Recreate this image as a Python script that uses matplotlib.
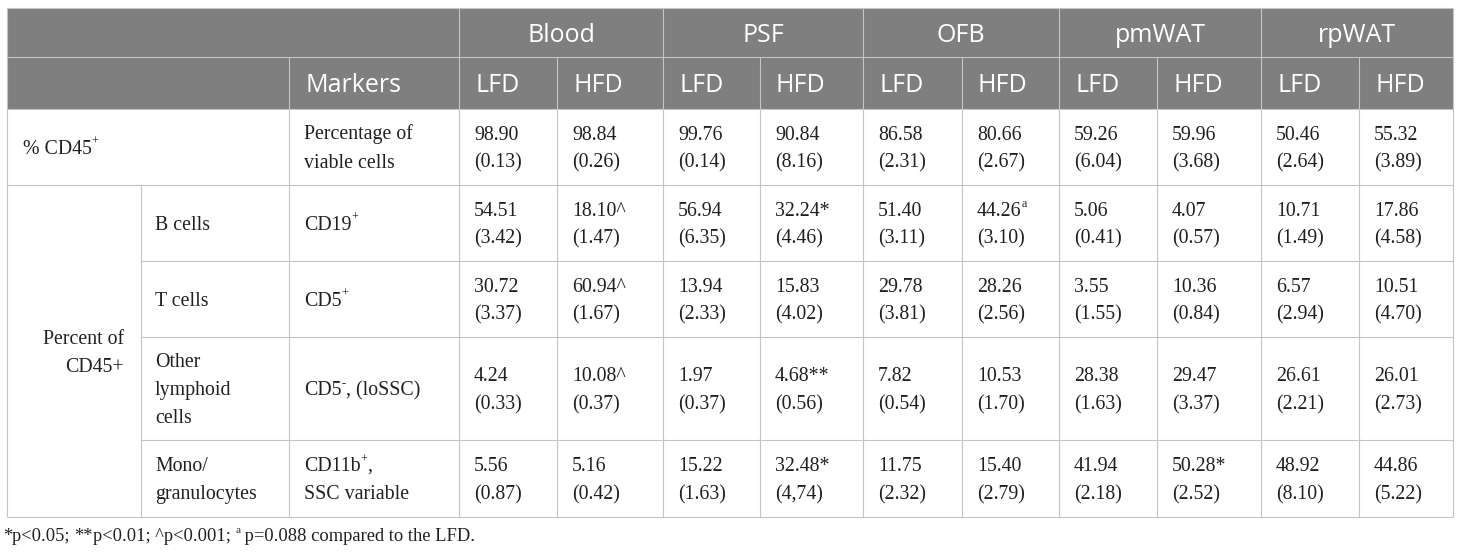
import matplotlib
matplotlib.use("Agg")
import matplotlib.pyplot as plt
from matplotlib.patches import Rectangle

# ---------------- data ----------------
tissues = ["Blood", "PSF", "OFB", "pmWAT", "rpWAT"]
diets = ["LFD", "HFD"]
markers_header = "Markers"

cd45_label = ("% CD45", "+")
cd45_marker = ["Percentage of", "viable cells"]
cd45_mean = ["98.90", "98.84", "99.76", "90.84", "86.58", "80.66", "59.26", "59.96", "50.46", "55.32"]
cd45_sd = ["0.13", "0.26", "0.14", "8.16", "2.31", "2.67", "6.04", "3.68", "2.64", "3.89"]

group_label = ["Percent of", "CD45+"]
cell_types = [["B cells"], ["T cells"], ["Other", "lymphoid", "cells"], ["Mono/", "granulocytes"]]
# marker segments: list of lines, each line list of (text, superscript)
cell_markers = [
    [[("CD19", False), ("+", True)]],
    [[("CD5", False), ("+", True)]],
    [[("CD5", False), ("-", True), (", (loSSC)", False)]],
    [[("CD11b", False), ("+", True), (",", False)], [("SSC variable", False)]],
]
b_mean = ["54.51", "18.10", "56.94", "32.24", "51.40", "44.26", "5.06", "4.07", "10.71", "17.86"]
b_sd = ["3.42", "1.47", "6.35", "4.46", "3.11", "3.10", "0.41", "0.57", "1.49", "4.58"]
b_mark = ["", "^", "", "*", "", "a", "", "", "", ""]
t_mean = ["30.72", "60.94", "13.94", "15.83", "29.78", "28.26", "3.55", "10.36", "6.57", "10.51"]
t_sd = ["3.37", "1.67", "2.33", "4.02", "3.81", "2.56", "1.55", "0.84", "2.94", "4.70"]
t_mark = ["", "^", "", "", "", "", "", "", "", ""]
o_mean = ["4.24", "10.08", "1.97", "4.68", "7.82", "10.53", "28.38", "29.47", "26.61", "26.01"]
o_sd = ["0.33", "0.37", "0.37", "0.56", "0.54", "1.70", "1.63", "3.37", "2.21", "2.73"]
o_mark = ["", "^", "", "**", "", "", "", "", "", ""]
m_mean = ["5.56", "5.16", "15.22", "32.48", "11.75", "15.40", "41.94", "50.28", "48.92", "44.86"]
m_sd = ["0.87", "0.42", "1.63", "4,74", "2.32", "2.79", "2.18", "2.52", "8.10", "5.22"]
m_mark = ["", "", "", "*", "", "", "", "*", "", ""]

footnote = [("*", False), ("p<0.05; ", False), ("**", False), ("p<0.01; ^p<0.001; ", False),
            ("a", True), (" p=0.088 compared to the LFD.", False)]

# ---------------- layout ----------------
W, H = 1460, 554
DPI = 100
fig = plt.figure(figsize=(W / DPI, H / DPI), dpi=DPI)
ax = fig.add_axes([0, 0, 1, 1])
ax.set_xlim(0, W)
ax.set_ylim(H, 0)
ax.axis("off")
renderer = fig.canvas.get_renderer()

xs = [7, 141, 289, 459, 557, 663, 760, 863, 962, 1059, 1157, 1261, 1359, 1453]
ys = [8, 57, 109, 185, 261, 337, 440, 517]
data_x = xs[3:13]

HDR_BG = "#7f7f7f"
GRID = "#c4c4c4"
TXT = "#231f20"
SERIF = ["Liberation Serif", "DejaVu Serif"]
SANS = ["Open Sans", "DejaVu Sans"]
BS = 14.3   # body font size
HS = 18.0   # header font size
LS = 28.0   # line spacing px

ax.add_patch(Rectangle((xs[0], ys[0]), xs[-1] - xs[0], ys[2] - ys[0], facecolor=HDR_BG, edgecolor="none", zorder=0))

lw = 1.1 * 72 / DPI
def hline(y, x0, x1):
    ax.plot([x0, x1], [y, y], color=GRID, lw=lw, solid_capstyle="butt", zorder=2)
def vline(x, y0, y1):
    ax.plot([x, x], [y0, y1], color=GRID, lw=lw, solid_capstyle="butt", zorder=2)

for y in [ys[0], ys[1], ys[2], ys[3], ys[7]]:
    hline(y, xs[0], xs[-1])
for y in ys[4:7]:
    hline(y, xs[1], xs[-1])
for x in [xs[0], xs[-1], xs[3], xs[5], xs[7], xs[9], xs[11]]:
    vline(x, ys[0], ys[7])
for x in [xs[4], xs[6], xs[8], xs[10], xs[12], xs[2]]:
    vline(x, ys[1], ys[7])
vline(xs[1], ys[3], ys[7])

def width(s, size, family):
    t1 = ax.text(0, 0, "|" + s + "|", fontsize=size, family=family)
    t2 = ax.text(0, 0, "||", fontsize=size, family=family)
    w = t1.get_window_extent(renderer).width - t2.get_window_extent(renderer).width
    t1.remove(); t2.remove()
    return w

def rich(x, y, segs, size=BS, family=SERIF, color=TXT):
    cur = x
    for s, sup in segs:
        fs = size * 0.62 if sup else size
        yy = y - size * 0.42 * DPI / 72 if sup else y
        ax.text(cur, yy, s, fontsize=fs, family=family, color=color, va="baseline", ha="left", zorder=3)
        cur += width(s, fs, family)

def cell_lines(x, y0, y1, lines, size=BS):
    n = len(lines)
    c = (y0 + y1) / 2 + 6.5
    for i, ln in enumerate(lines):
        yb = c + (i - (n - 1) / 2) * LS
        if isinstance(ln, str):
            ln = [(ln, False)]
        rich(x, yb, ln, size=size)

# header
for i, t in enumerate(tissues):
    cx = (xs[3 + 2 * i] + xs[5 + 2 * i]) / 2
    ax.text(cx, (ys[0] + ys[1]) / 2 + 9.5, t, fontsize=HS, family=SANS, color="white", ha="center", va="baseline")
ax.text(xs[2] + 16, (ys[1] + ys[2]) / 2 + 8.5, markers_header, fontsize=HS, family=SANS, color="white", ha="left", va="baseline")
for j, x in enumerate(data_x):
    ax.text(x + 16, (ys[1] + ys[2]) / 2 + 8.5, diets[j % 2], fontsize=HS, family=SANS, color="white", ha="left", va="baseline")

# row CD45
cell_lines(xs[0] + 16, ys[2], ys[3], [[(cd45_label[0], False), (cd45_label[1], True)]])
cell_lines(xs[2] + 15, ys[2], ys[3], cd45_marker)
for j, x in enumerate(data_x):
    cell_lines(x + 15, ys[2], ys[3], [cd45_mean[j], "(" + cd45_sd[j] + ")"])

# group label, right aligned
gc = (ys[3] + ys[7]) / 2 + 6.5
for i, ln in enumerate(group_label):
    ax.text(xs[1] - 17, gc + (i - 0.5) * LS, ln, fontsize=BS, family=SERIF, color=TXT, ha="right", va="baseline")

rows = [(b_mean, b_sd, b_mark), (t_mean, t_sd, t_mark), (o_mean, o_sd, o_mark), (m_mean, m_sd, m_mark)]
for r, (mn, sd, mk) in enumerate(rows):
    y0, y1 = ys[3 + r], ys[4 + r]
    cell_lines(xs[1] + 14, y0, y1, cell_types[r])
    cell_lines(xs[2] + 15, y0, y1, cell_markers[r])
    for j, x in enumerate(data_x):
        if mk[j] == "a":
            first = [(mn[j], False), ("a", True)]
        else:
            first = [(mn[j] + mk[j], False)]
        cell_lines(x + 15, y0, y1, [first, "(" + sd[j] + ")"])

rich(3, 541, footnote, size=13.3)

fig.savefig("out.png", dpi=DPI, facecolor="white")
